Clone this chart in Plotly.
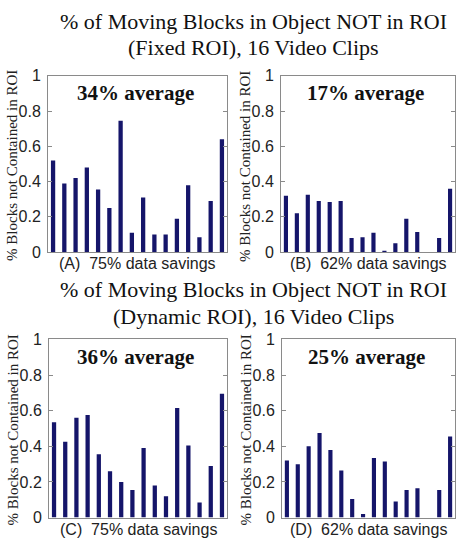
import plotly.graph_objects as go

clips = list(range(1, 17))
fixed_75 = [0.52, 0.39, 0.42, 0.48, 0.355, 0.25, 0.745, 0.11, 0.31, 0.10, 0.10, 0.19, 0.38, 0.085, 0.29, 0.64]
fixed_62 = [0.32, 0.22, 0.325, 0.29, 0.285, 0.29, 0.08, 0.085, 0.11, 0.003, 0.05, 0.19, 0.115, 0.0, 0.08, 0.36]
dyn_75 = [0.535, 0.425, 0.56, 0.575, 0.355, 0.26, 0.20, 0.155, 0.39, 0.18, 0.12, 0.615, 0.405, 0.085, 0.29, 0.695]
dyn_62 = [0.32, 0.30, 0.40, 0.475, 0.38, 0.265, 0.105, 0.02, 0.335, 0.315, 0.09, 0.155, 0.165, 0.0, 0.155, 0.455]

panels = [
    (fixed_75, "34% average", "(A)  75% data savings"),
    (fixed_62, "17% average", "(B)  62% data savings"),
    (dyn_75, "36% average", "(C)  75% data savings"),
    (dyn_62, "25% average", "(D)  62% data savings"),
]
tick_vals = [0, 0.2, 0.4, 0.6, 0.8, 1]
tick_text = ["0", "0.2", "0.4", "0.6", "0.8", "1"]
title_top = ["% of Moving Blocks in Object NOT in ROI", "(Fixed ROI), 16 Video Clips"]
title_bot = ["% of Moving Blocks in Object NOT in ROI", "(Dynamic ROI), 16 Video Clips"]
ylabel = "% Blocks not Contained in ROI"

W, H = 456, 546
# pixel boxes: left, right, top, bottom
boxes = [(48, 227, 70, 252), (281, 455, 70, 252), (49, 227, 342, 526), (282, 455, 342, 526)]

SERIF = "Liberation Serif, Times New Roman, serif"
SANS = "Liberation Sans, Arial, sans-serif"
BAR = "#15156a"

fig = go.Figure()
layout = dict(width=W, height=H, margin=dict(l=0, r=0, t=0, b=0),
              paper_bgcolor="white", plot_bgcolor="white", showlegend=False)
annotations = []
for i, ((vals, avg, xl), (l, r, t, b)) in enumerate(zip(panels, boxes)):
    n = "" if i == 0 else str(i + 1)
    fig.add_trace(go.Bar(x=clips, y=vals, width=0.38, marker=dict(color=BAR, line=dict(width=0)),
                         xaxis="x" + n, yaxis="y" + n))
    layout["xaxis" + n] = dict(domain=[l / W, r / W], range=[0.55, 16.45], showticklabels=False,
                               ticks="", showgrid=False, zeroline=False, showline=True,
                               linecolor="#8a8a8a", linewidth=1, mirror=True,
                               anchor="y" + n, fixedrange=True)
    layout["yaxis" + n] = dict(domain=[1 - b / H, 1 - t / H], range=[0, 1], tickvals=tick_vals,
                               ticktext=tick_text, ticks="inside", ticklen=4, tickcolor="#8a8a8a",
                               showgrid=False, zeroline=False, showline=True, linecolor="#8a8a8a",
                               linewidth=1, mirror="ticks", anchor="x" + n, ticklabelstandoff=3,
                               tickfont=dict(family=SANS, size=16, color="#222"), fixedrange=True)
    annotations.append(dict(text="<b>" + avg + "</b>", xref="paper", yref="paper",
                            x=(l + r) / 2 / W - 0.005, y=1 - (t + 18) / H, showarrow=False,
                            xanchor="center", yanchor="middle",
                            font=dict(family=SERIF, size=21, color="#111")))
    annotations.append(dict(text=xl, xref="paper", yref="paper", x=(l + r) / 2 / W,
                            y=1 - (b + 12) / H, showarrow=False, xanchor="center", yanchor="middle",
                            font=dict(family=SANS, size=16, color="#222")))
    annotations.append(dict(text=ylabel, xref="paper", yref="paper", x=(l - 36) / W,
                            y=1 - ((t + b) / 2 + 2) / H, textangle=-90, showarrow=False,
                            xanchor="center", yanchor="middle",
                            font=dict(family=SERIF, size=15, color="#222")))

for lines, y0 in [(title_top, 14), (title_bot, 291)]:
    for k, s in enumerate(lines):
        annotations.append(dict(text=s, xref="paper", yref="paper", x=253 / W,
                                y=1 - (y0 + 27 * k) / H, showarrow=False,
                                xanchor="center", yanchor="middle",
                                font=dict(family=SERIF, size=22, color="#111")))

layout["annotations"] = annotations
fig.update_layout(**layout)
fig.write_html("out.html", config={"displayModeBar": False},
               post_script="document.body.style.margin='0';")
